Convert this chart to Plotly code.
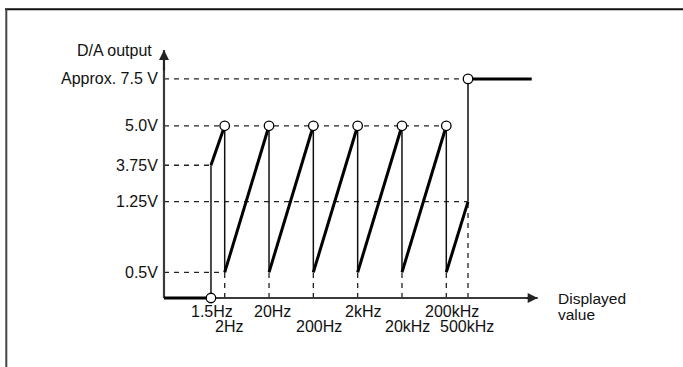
import numpy as np
import plotly.graph_objects as go

# ---------------- data ----------------
tick_freqs = [1.5, 2, 20, 200, 2e3, 2e4, 2e5, 5e5]
tick_labels = ["1.5Hz", "2Hz", "20Hz", "200Hz", "2kHz", "20kHz", "200kHz", "500kHz"]
volt_levels = [0.5, 1.25, 3.75, 5.0, 7.5]
volt_labels = ["0.5V", "1.25V", "3.75V", "5.0V", "Approx. 7.5 V"]

ramp_start_f = [1.5, 2, 20, 200, 2e3, 2e4, 2e5]
ramp_end_f = [2, 20, 200, 2e3, 2e4, 2e5, 5e5]
ramp_start_v = [3.75, 0.5, 0.5, 0.5, 0.5, 0.5, 0.5]
ramp_end_v = [5.0, 5.0, 5.0, 5.0, 5.0, 5.0, 1.25]

reset_f = [2, 20, 200, 2e3, 2e4, 2e5]          # thin drop lines 5.0V -> 0.5V
under_f, under_v = 1.5, 0.0                     # below-range point
over_f, over_v = 5e5, 7.5                       # above-range point
open_pts_f = [1.5, 2, 20, 200, 2e3, 2e4, 2e5, 5e5]
open_pts_v = [0.0, 5.0, 5.0, 5.0, 5.0, 5.0, 5.0, 7.5]

# ------------- schematic (non-linear) scales -------------
X_POS = [-0.31, 0, 1, 2, 3, 4, 5, 5.49]          # drawn position of each tick frequency
V_ANCH = [0, 0.5, 1.25, 3.75, 5.0, 7.5]
Y_POS = [0, 0.117, 0.44, 0.606, 0.786, 1.0]      # drawn height of each voltage level


def xs(f):
    return float(np.interp(np.log10(f), np.log10(tick_freqs), X_POS))


def ys(v):
    return float(np.interp(v, V_ANCH, Y_POS))


X0, X1, YTOP = -1.37, 7.062, 1.132               # axis extents
X_OVER_END = 6.927

FONT = "Liberation Sans, Arial, Helvetica, sans-serif"
TXT = "#111111"


def segs(pairs):
    xx, yy = [], []
    for (fa, va), (fb, vb) in pairs:
        xx += [fa, fb, None]
        yy += [va, vb, None]
    return xx, yy


fig = go.Figure()

# dashed guide lines
dash_pairs = []
guide_end = {7.5: over_f, 5.0: 2e5, 3.75: 1.5, 1.25: 5e5, 0.5: 2}
for v in volt_levels:
    dash_pairs.append(((X0, ys(v)), (xs(guide_end[v]), ys(v))))
for f in reset_f:
    dash_pairs.append(((xs(f), 0), (xs(f), ys(0.5))))
dash_pairs.append(((xs(5e5), 0), (xs(5e5), ys(1.25))))
dx, dy = segs(dash_pairs)
fig.add_trace(go.Scatter(x=dx, y=dy, mode="lines",
                         line=dict(color="#222", width=1.3, dash="5px,5px"),
                         hoverinfo="skip"))

# axes
fig.add_trace(go.Scatter(x=[X0, X0, None, X0, X1], y=[YTOP, 0, None, 0, 0], mode="lines",
                         line=dict(color="#3a3a3a", width=2.2), hoverinfo="skip"))

# thin drop lines
tx, ty = segs([((xs(f), ys(5.0)), (xs(f), ys(0.5))) for f in reset_f])
fig.add_trace(go.Scatter(x=tx, y=ty, mode="lines",
                         line=dict(color="#111", width=1.5), hoverinfo="skip"))

# gray step verticals
gx, gy = segs([((xs(under_f), ys(under_v)), (xs(1.5), ys(3.75))),
               ((xs(over_f), ys(1.25)), (xs(over_f), ys(over_v)))])
fig.add_trace(go.Scatter(x=gx, y=gy, mode="lines",
                         line=dict(color="#4a4a4a", width=2), hoverinfo="skip"))

# thick ramps and out-of-range lines
rp = [((xs(a), ys(va)), (xs(b), ys(vb)))
      for a, b, va, vb in zip(ramp_start_f, ramp_end_f, ramp_start_v, ramp_end_v)]
rp.append(((X0, ys(under_v)), (xs(under_f), ys(under_v))))
rp.append(((xs(over_f), ys(over_v)), (X_OVER_END, ys(over_v))))
rx, ry = segs(rp)
fig.add_trace(go.Scatter(x=rx, y=ry, mode="lines",
                         line=dict(color="#000", width=3), hoverinfo="skip"))

# open circles
fig.add_trace(go.Scatter(x=[xs(f) for f in open_pts_f], y=[ys(v) for v in open_pts_v],
                         mode="markers", cliponaxis=False,
                         marker=dict(size=9.5, color="white", line=dict(color="#000", width=1.3)),
                         hoverinfo="skip"))

ann = []
# arrowheads
ann.append(dict(x=X1, y=0, ax=X1 - 0.3, ay=0, xref="x", yref="y", axref="x", ayref="y",
                showarrow=True, arrowhead=2, arrowsize=1, arrowwidth=2, arrowcolor="#222", text=""))
ann.append(dict(x=X0, y=YTOP, ax=X0, ay=YTOP - 0.1, xref="x", yref="y", axref="x", ayref="y",
                showarrow=True, arrowhead=2, arrowsize=1, arrowwidth=2, arrowcolor="#222", text=""))

# y labels
for v, lab in zip(volt_levels, volt_labels):
    ann.append(dict(x=X0, y=ys(v), text=lab, showarrow=False, xanchor="right", yanchor="middle",
                    xshift=-4, font=dict(family=FONT, size=16, color=TXT)))
ann.append(dict(x=X0, y=YTOP, text="D/A output", showarrow=False, xanchor="right", yanchor="middle",
                xshift=-10, yshift=-1, font=dict(family=FONT, size=16, color=TXT)))

# x labels (two staggered rows)
label_dx = [1, 4, 3, 6, 5, 6, 6, -1]
for i, (f, lab) in enumerate(zip(tick_freqs, tick_labels)):
    ann.append(dict(x=xs(f), y=0, text=lab, showarrow=False, xanchor="center", yanchor="middle",
                    xshift=label_dx[i], yshift=-13 if i % 2 == 0 else -28,
                    font=dict(family=FONT, size=16, color=TXT)))
ann.append(dict(x=X1, y=0, text="Displayed", showarrow=False, xanchor="left", yanchor="middle",
                xshift=18, yshift=-0.5, font=dict(family=FONT, size=15.5, color=TXT)))
ann.append(dict(x=X1, y=0, text="value", showarrow=False, xanchor="left", yanchor="middle",
                xshift=18, yshift=-16.5, font=dict(family=FONT, size=15.5, color=TXT)))

# page frame
L, R, T, B = 150, 123, 40, 27
W, H = 683, 367
pw, ph = W - L - R, H - T - B


def px(xp):
    return (xp - L) / pw


def py(yp):
    return (H - B - yp) / ph


shapes = [
    dict(type="line", xref="paper", yref="paper", x0=px(5), x1=px(684), y0=py(9.3), y1=py(9.3),
         line=dict(color="#111", width=2)),
    dict(type="line", xref="paper", yref="paper", x0=px(6.3), x1=px(6.3), y0=py(9.3), y1=py(368),
         line=dict(color="#444", width=2)),
]

fig.update_layout(
    width=W, height=H, margin=dict(l=L, r=R, t=T, b=B),
    paper_bgcolor="white", plot_bgcolor="white", showlegend=False,
    xaxis=dict(range=[(150 - 224.7) / 44.32, (560 - 224.7) / 44.32], visible=False, fixedrange=True),
    yaxis=dict(range=[(298 - 340) / 219.1, (298 - 40) / 219.1], visible=False, fixedrange=True),
    annotations=ann, shapes=shapes,
)
fig.write_html("out.html", config={"displayModeBar": False},
               post_script="document.body.style.margin='0';document.body.style.overflow='hidden';")
